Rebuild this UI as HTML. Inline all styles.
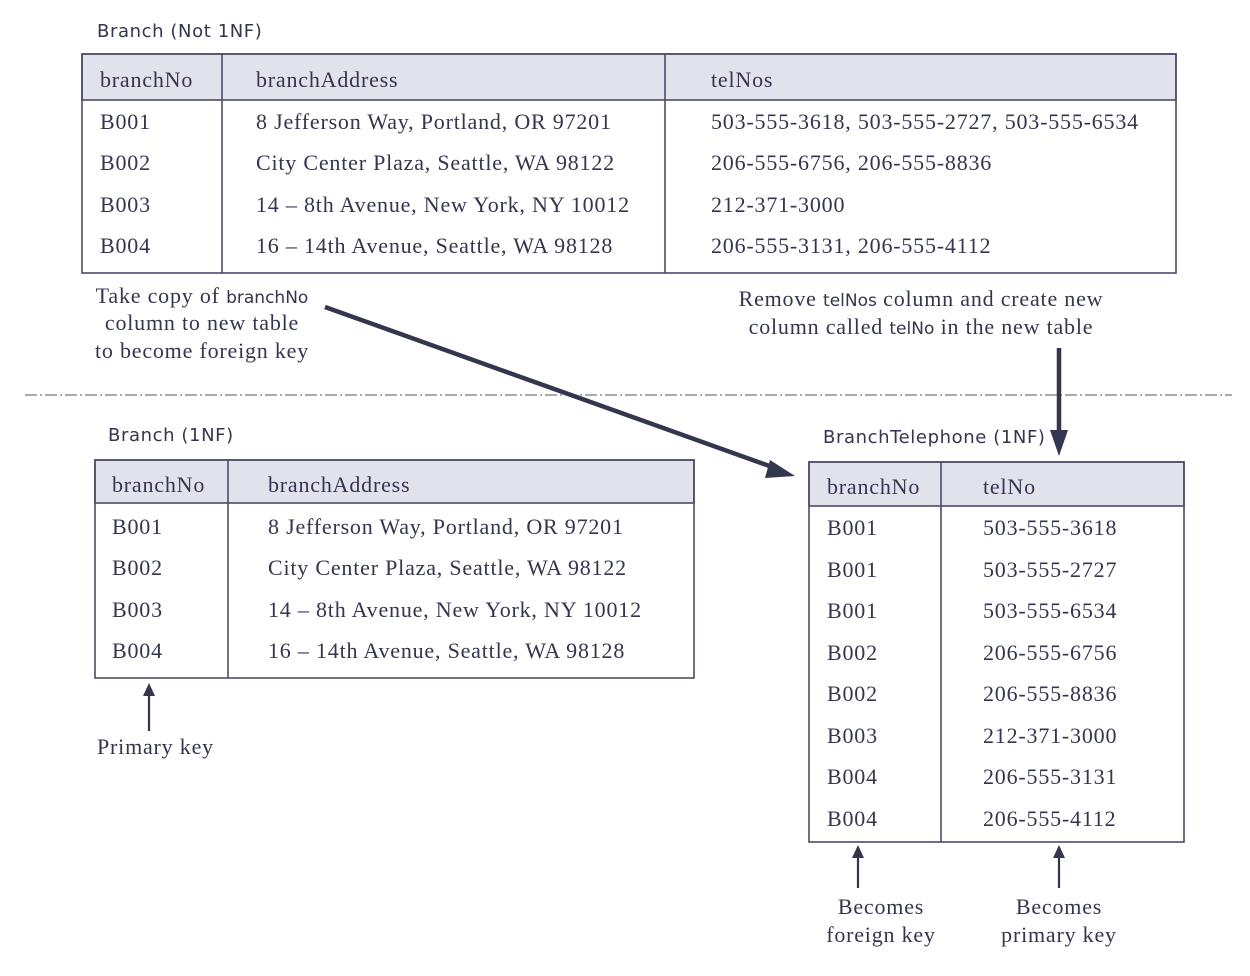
<!DOCTYPE html>
<html><head><meta charset="utf-8"><style>
html,body{margin:0;padding:0;background:#fff;}
svg{display:block;}
.s{font-family:"Liberation Serif",serif;font-size:22px;letter-spacing:0.8px;fill:#33364f;}
.n{font-family:"DejaVu Sans","Liberation Sans",sans-serif;font-size:18px;letter-spacing:0.6px;fill:#33364f;}
.ns{font-family:"DejaVu Sans","Liberation Sans",sans-serif;font-size:17px;letter-spacing:0px;fill:#33364f;}
</style></head><body>
<svg width="1250" height="976" viewBox="0 0 1250 976" xmlns="http://www.w3.org/2000/svg">
<g stroke="#4a4d68" stroke-width="1.6" fill="none">
<rect x="82" y="54" width="1094" height="46" fill="#e1e2eb"/>
<rect x="82" y="54" width="1094" height="219"/>
<line x1="222" y1="54" x2="222" y2="273"/>
<line x1="665" y1="54" x2="665" y2="273"/>
<rect x="95" y="460" width="599" height="43" fill="#e1e2eb"/>
<rect x="95" y="460" width="599" height="218"/>
<line x1="228" y1="460" x2="228" y2="678"/>
<rect x="809" y="462" width="375" height="44" fill="#e1e2eb"/>
<rect x="809" y="462" width="375" height="380"/>
<line x1="941" y1="462" x2="941" y2="842"/>
</g>
<line x1="25" y1="395" x2="1232" y2="395" stroke="#555" stroke-width="1" stroke-dasharray="12,3,2,3"/>
<g stroke="#33364f" fill="none" stroke-width="4.5">
<line x1="325" y1="307" x2="775" y2="468"/>
<line x1="1059" y1="348" x2="1059" y2="440"/>
</g>
<g fill="#33364f">
<path d="M1050,430 L1068,430 L1059,456 z"/>
<path d="M770,460 L795,476 L765,478 z"/>
</g>
<g stroke="#33364f" stroke-width="2.2">
<line x1="149" y1="731" x2="149" y2="692"/>
<line x1="858" y1="888" x2="858" y2="854"/>
<line x1="1059" y1="888" x2="1059" y2="854"/>
</g>
<g fill="#33364f">
<path d="M143,696 L155,696 L149,683 z"/>
<path d="M852,858 L864,858 L858,845 z"/>
<path d="M1053,858 L1065,858 L1059,845 z"/>
</g>
<text class="n" x="97" y="37">Branch (Not 1NF)</text>
<text class="n" x="108" y="441">Branch (1NF)</text>
<text class="n" x="823" y="443">BranchTelephone (1NF)</text>
<g class="s">
<text x="100" y="87">branchNo</text><text x="256" y="87">branchAddress</text><text x="711" y="87">telNos</text>
<text x="100" y="129">B001</text><text x="256" y="129">8 Jefferson Way, Portland, OR 97201</text><text x="711" y="129">503-555-3618, 503-555-2727, 503-555-6534</text>
<text x="100" y="170">B002</text><text x="256" y="170">City Center Plaza, Seattle, WA 98122</text><text x="711" y="170">206-555-6756, 206-555-8836</text>
<text x="100" y="212">B003</text><text x="256" y="212">14 – 8th Avenue, New York, NY 10012</text><text x="711" y="212">212-371-3000</text>
<text x="100" y="253">B004</text><text x="256" y="253">16 – 14th Avenue, Seattle, WA 98128</text><text x="711" y="253">206-555-3131, 206-555-4112</text>
<text x="112" y="492">branchNo</text><text x="268" y="492">branchAddress</text>
<text x="112" y="534">B001</text><text x="268" y="534">8 Jefferson Way, Portland, OR 97201</text>
<text x="112" y="575">B002</text><text x="268" y="575">City Center Plaza, Seattle, WA 98122</text>
<text x="112" y="617">B003</text><text x="268" y="617">14 – 8th Avenue, New York, NY 10012</text>
<text x="112" y="658">B004</text><text x="268" y="658">16 – 14th Avenue, Seattle, WA 98128</text>
<text x="827" y="494">branchNo</text><text x="983" y="494">telNo</text>
<text x="827" y="535">B001</text><text x="983" y="535">503-555-3618</text>
<text x="827" y="577">B001</text><text x="983" y="577">503-555-2727</text>
<text x="827" y="618">B001</text><text x="983" y="618">503-555-6534</text>
<text x="827" y="660">B002</text><text x="983" y="660">206-555-6756</text>
<text x="827" y="701">B002</text><text x="983" y="701">206-555-8836</text>
<text x="827" y="743">B003</text><text x="983" y="743">212-371-3000</text>
<text x="827" y="784">B004</text><text x="983" y="784">206-555-3131</text>
<text x="827" y="826">B004</text><text x="983" y="826">206-555-4112</text>
<text x="202" y="303" text-anchor="middle">Take copy of <tspan class="ns">branchNo</tspan></text>
<text x="202" y="330" text-anchor="middle">column to new table</text>
<text x="202" y="358" text-anchor="middle">to become foreign key</text>
<text x="921" y="306" text-anchor="middle">Remove <tspan class="ns">telNos</tspan> column and create new</text>
<text x="921" y="334" text-anchor="middle">column called <tspan class="ns">telNo</tspan> in the new table</text>
<text x="97" y="754">Primary key</text>
<text x="881" y="914" text-anchor="middle">Becomes</text>
<text x="881" y="942" text-anchor="middle">foreign key</text>
<text x="1059" y="914" text-anchor="middle">Becomes</text>
<text x="1059" y="942" text-anchor="middle">primary key</text>
</g>
</svg>
</body></html>
